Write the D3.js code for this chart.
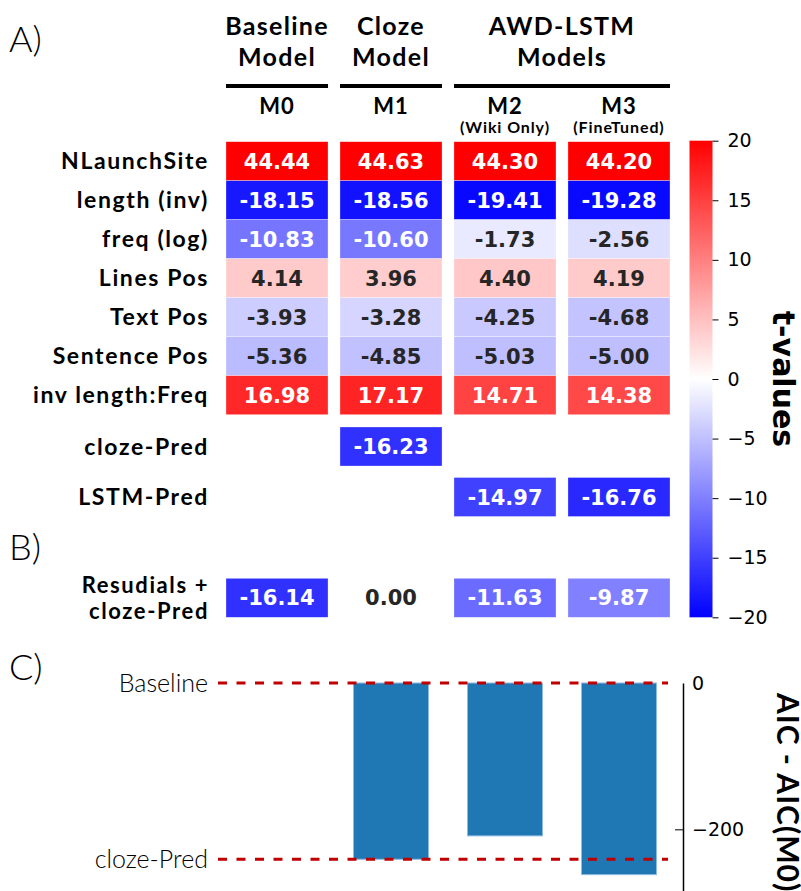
<!DOCTYPE html>
<meta charset="utf-8">
<script src="https://d3js.org/d3.v7.min.js"></script>
<style>
  body { margin: 0; background: #fff; }
  .lab { font-family: Lato, "Open Sans", sans-serif; }
  .num { font-family: "DejaVu Sans", sans-serif; }
</style>
<div id="my_dataviz"></div>
<script>

// ---- data ----
var models = ["M0", "M1", "M2", "M3"];
var modelNotes = ["", "", "(Wiki Only)", "(FineTuned)"];
var groups = [
  {name: ["Baseline", "Model"], cols: ["M0"]},
  {name: ["Cloze", "Model"], cols: ["M1"]},
  {name: ["AWD-LSTM", "Models"], cols: ["M2", "M3"]}
];
var rowLabels = ["NLaunchSite", "length (inv)", "freq (log)", "Lines Pos", "Text Pos", "Sentence Pos", "inv length:Freq"];
var tM0 = [44.44, -18.15, -10.83, 4.14, -3.93, -5.36, 16.98];
var tM1 = [44.63, -18.56, -10.60, 3.96, -3.28, -4.85, 17.17];
var tM2 = [44.30, -19.41, -1.73, 4.40, -4.25, -5.03, 14.71];
var tM3 = [44.20, -19.28, -2.56, 4.19, -4.68, -5.00, 14.38];
var predLabels = ["cloze-Pred", "LSTM-Pred"];
var clozePred = [null, -16.23, null, null];
var lstmPred = [null, null, -14.97, -16.76];
var residLabel = ["Resudials +", "cloze-Pred"];
var residVals = [-16.14, 0.00, -11.63, -9.87];
var cbarTicks = [20, 15, 10, 5, 0, -5, -10, -15, -20];

var aicModels = ["M1", "M2", "M3"];
var aicDiff = [-241, -209, -262];
var refNames = ["Baseline", "cloze-Pred"];
var refVals = [0, -241];
var aicTicks = [0, -200];

// ---- svg ----
var W = 801, H = 891;
var svg = d3.select("#my_dataviz").append("svg")
  .attr("width", W).attr("height", H);

// bwr colormap, clipped at +-20
var tScale = d3.scaleLinear().domain([-20, 20]).range([0, 1]).clamp(true);
function bwr(v) {
  var t = tScale(v), r, g, b;
  if (t < 0.5) { r = g = 2 * t; b = 1; } else { r = 1; g = b = 2 * (1 - t); }
  return d3.rgb(r * 255, g * 255, b * 255);
}
function textColor(v) {
  var c = bwr(v);
  function lin(x) { x /= 255; return x <= 0.03928 ? x / 12.92 : Math.pow((x + 0.055) / 1.055, 2.4); }
  var lum = 0.2126 * lin(c.r) + 0.7152 * lin(c.g) + 0.0722 * lin(c.b);
  return lum > 0.408 ? "#262626" : "#fff";
}

var x = d3.scaleBand().domain(models).range([226, 670]).paddingInner(0.105);

// ---- header ----
var head = svg.append("g");
groups.forEach(function(gp) {
  var x0 = x(gp.cols[0]), x1 = x(gp.cols[gp.cols.length - 1]) + x.bandwidth();
  var cx = (x0 + x1) / 2;
  gp.name.forEach(function(t, k) {
    head.append("text").attr("class", "lab").attr("x", cx).attr("y", 35 + k * 31)
      .attr("text-anchor", "middle").style("font-size", "25px").style("font-weight", 700)
      .style("letter-spacing", "1.3px").text(t);
  });
  head.append("line").attr("x1", x0).attr("x2", x1).attr("y1", 86).attr("y2", 86)
    .attr("stroke", "#000").attr("stroke-width", 4);
});
models.forEach(function(m, i) {
  var cx = x(m) + x.bandwidth() / 2;
  head.append("text").attr("class", "lab").attr("x", cx).attr("y", 114)
    .attr("text-anchor", "middle").style("font-size", "22px").style("font-weight", 700)
    .style("letter-spacing", "1px").text(m);
  if (modelNotes[i]) {
    head.append("text").attr("class", "lab").attr("x", cx).attr("y", 133)
      .attr("text-anchor", "middle").style("font-size", "16px").style("font-weight", 700)
      .style("letter-spacing", "0.9px").text(modelNotes[i]);
  }
});

// panel letters
[["A)", 52], ["B)", 560], ["C)", 680]].forEach(function(p) {
  svg.append("text").attr("class", "lab").attr("x", 9).attr("y", p[1])
    .style("font-size", "36px").style("font-weight", 300).text(p[0]);
});

// ---- heatmap blocks ----
function rowLabel(g, xx, yy, t, fs) {
  return g.append("text").attr("class", "lab").attr("x", xx).attr("y", yy)
    .attr("text-anchor", "end").style("font-size", (fs || 23) + "px").style("font-weight", 700)
    .style("letter-spacing", "1.6px").text(t);
}
function drawBlock(top, labels, cols, rowH) {
  var y = d3.scaleBand().domain(d3.range(labels.length))
    .range([top, top + rowH * labels.length]);
  var g = svg.append("g");
  labels.forEach(function(lab, r) {
    rowLabel(g, 209, y(r) + y.bandwidth() / 2, lab).attr("dy", "0.35em");
  });
  models.forEach(function(m, c) {
    cols[c].forEach(function(v, r) {
      if (v === null) return;
      g.append("rect").attr("x", x(m)).attr("y", y(r))
        .attr("width", x.bandwidth()).attr("height", y.bandwidth())
        .attr("fill", bwr(v)).attr("stroke", "#fff").attr("stroke-opacity", 0.5)
        .attr("stroke-width", 0.6);
      g.append("text").attr("class", "num")
        .attr("x", x(m) + x.bandwidth() / 2).attr("y", y(r) + y.bandwidth() / 2)
        .attr("dy", "0.36em").attr("text-anchor", "middle")
        .style("font-size", "21px").style("font-weight", 700)
        .attr("fill", textColor(v)).text(v.toFixed(2));
    });
  });
}
drawBlock(141.7, rowLabels, [tM0, tM1, tM2, tM3], 39);
drawBlock(427, [predLabels[0]], [[clozePred[0]], [clozePred[1]], [clozePred[2]], [clozePred[3]]], 39);
drawBlock(477.5, [predLabels[1]], [[lstmPred[0]], [lstmPred[1]], [lstmPred[2]], [lstmPred[3]]], 39);
drawBlock(578.3, [""], [[residVals[0]], [residVals[1]], [residVals[2]], [residVals[3]]], 39);
residLabel.forEach(function(t, i) {
  rowLabel(svg, 209, 593 + i * 26, t, 22);
});

// ---- colorbar ----
var cb = svg.append("g");
var defs = svg.append("defs");
var grad = defs.append("linearGradient").attr("id", "bwr")
  .attr("x1", 0).attr("x2", 0).attr("y1", 1).attr("y2", 0);
d3.range(0, 1.0001, 0.05).forEach(function(t) {
  grad.append("stop").attr("offset", t).attr("stop-color", bwr(-20 + 40 * t));
});
var cy = d3.scaleLinear().domain([-20, 20]).range([617.3, 140.7]);
cb.append("rect").attr("x", 689.5).attr("y", cy(20)).attr("width", 23)
  .attr("height", cy(-20) - cy(20)).attr("fill", "url(#bwr)");
cb.append("g").attr("transform", "translate(712.5,0)")
  .call(d3.axisRight(cy).tickValues(cbarTicks).tickSize(6).tickPadding(9)
    .tickFormat(function(d) { return d < 0 ? "\u2212" + Math.abs(d) : d; }))
  .call(function(g) {
    g.select(".domain").remove();
    g.selectAll("text").attr("class", "num").style("font-size", "19px").attr("fill", "#000");
    g.selectAll("line").attr("stroke", "#000").attr("stroke-width", 1);
  });
cb.append("text").attr("class", "num")
  .attr("transform", "translate(773," + cy(0) + ") rotate(90)")
  .attr("text-anchor", "middle").style("font-size", "30px").style("font-weight", 700)
  .text("t-values");

// ---- AIC bars ----
var ya = d3.scaleLinear().domain([0, -200]).range([683, 829.3]);
var barW = 75;
var bars = svg.append("g");
aicModels.forEach(function(m, i) {
  bars.append("rect").attr("x", x(m) + (x.bandwidth() - barW) / 2)
    .attr("y", ya(0)).attr("width", barW).attr("height", ya(aicDiff[i]) - ya(0))
    .attr("fill", "#1f77b4").attr("stroke", "#8fbbe0").attr("stroke-width", 1);
});
refNames.forEach(function(n, i) {
  bars.append("line").attr("x1", 218).attr("x2", 668)
    .attr("y1", ya(refVals[i])).attr("y2", ya(refVals[i]))
    .attr("stroke", "#c00000").attr("stroke-width", 3).attr("stroke-dasharray", "9,9.5");
  bars.append("text").attr("class", "lab").attr("x", 208).attr("y", ya(refVals[i]))
    .attr("dy", "0.35em").attr("text-anchor", "end")
    .style("font-size", "25px").style("font-weight", 300).text(n);
});
svg.append("g").attr("transform", "translate(683,0)")
  .call(d3.axisRight(ya.copy().domain([0, -285]).range([683, 891.5]))
    .tickValues(aicTicks).tickSizeInner(-8).tickSizeOuter(0).tickPadding(9)
    .tickFormat(function(d) { return d < 0 ? "\u2212" + Math.abs(d) : d; }))
  .call(function(g) {
    g.select(".domain").attr("stroke", "#000").attr("stroke-width", 1.5);
    g.selectAll(".tick line").filter(function(d) { return d === 0; }).remove();
    g.selectAll("text").attr("class", "num").style("font-size", "19px").attr("fill", "#000");
  });
svg.append("text").attr("class", "lab")
  .attr("transform", "translate(777,693) rotate(90)")
  .style("font-size", "30px").style("font-weight", 700)
  .style("letter-spacing", "1px")
  .text("AIC - AIC(M0)");

</script>
